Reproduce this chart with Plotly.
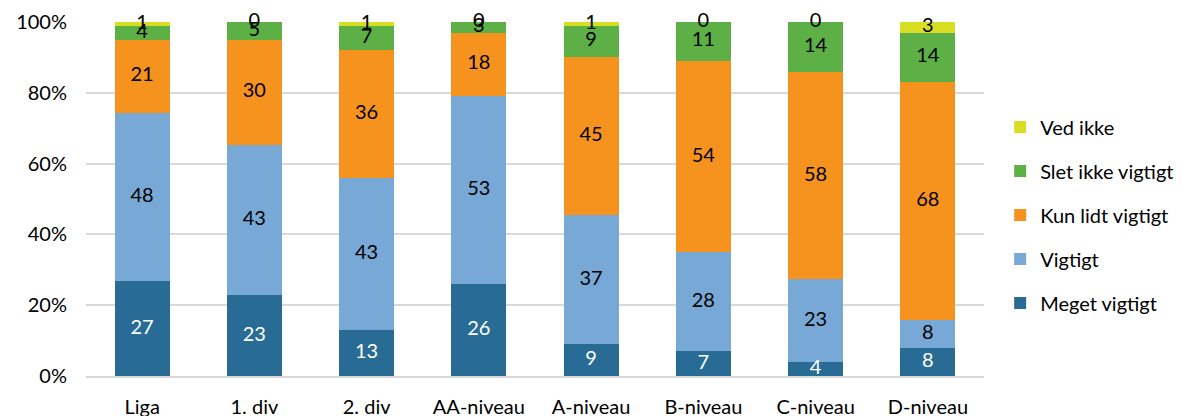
import plotly.graph_objects as go

categories = ["Liga", "1. div", "2. div", "AA-niveau", "A-niveau", "B-niveau", "C-niveau", "D-niveau"]

meget_vigtigt = [27, 23, 13, 26, 9, 7, 4, 8]
vigtigt = [48, 43, 43, 53, 37, 28, 23, 8]
kun_lidt_vigtigt = [21, 30, 36, 18, 45, 54, 58, 68]
slet_ikke_vigtigt = [4, 5, 7, 3, 9, 11, 14, 14]
ved_ikke = [1, 0, 1, 0, 1, 0, 0, 3]

y_ticks = [0, 20, 40, 60, 80, 100]
y_tick_labels = ["0%", "20%", "40%", "60%", "80%", "100%"]

series = [
    ("Meget vigtigt", meget_vigtigt, "#286B94", "white"),
    ("Vigtigt", vigtigt, "#78A9D6", "black"),
    ("Kun lidt vigtigt", kun_lidt_vigtigt, "#F6931F", "black"),
    ("Slet ikke vigtigt", slet_ikke_vigtigt, "#5CB046", "black"),
    ("Ved ikke", ved_ikke, "#D8DE22", "black"),
]

FONT = "Lato, 'Open Sans', sans-serif"
FS = 20

totals = [sum(vals) for vals in zip(*[s[1] for s in series])]

fig = go.Figure()

# stacked bars, each column normalised to 100 %
for i, (name, vals, color, tcolor) in enumerate(series):
    fig.add_trace(go.Bar(
        name=name,
        x=categories,
        y=vals,
        marker=dict(color=color, line=dict(width=0)),
        legendgroup=f"g{i}",
        legendrank=len(series) - i,
        hoverinfo="x+y+name",
    ))

# value labels centred in each (normalised) segment, zero-height segments included
base = [0.0] * len(categories)
for i, (name, vals, color, tcolor) in enumerate(series):
    shares = [v / t * 100 for v, t in zip(vals, totals)]
    mids = [b + s / 2 for b, s in zip(base, shares)]
    fig.add_trace(go.Scatter(
        x=categories,
        y=mids,
        mode="text",
        text=[str(v) for v in vals],
        textposition="middle center",
        textfont=dict(color=tcolor, size=FS, family=FONT),
        showlegend=False,
        hoverinfo="skip",
        cliponaxis=False,
    ))
    base = [b + s for b, s in zip(base, shares)]

fig.update_layout(
    barmode="stack",
    barnorm="percent",
    bargap=0.51,
    width=1190,
    height=416,
    margin=dict(l=86, r=206, t=22, b=40, autoexpand=False),
    paper_bgcolor="white",
    plot_bgcolor="white",
    font=dict(family=FONT, size=FS, color="black"),
    legend=dict(
        traceorder="grouped",
        tracegroupgap=15,
        x=1.018,
        xanchor="left",
        y=0.455,
        yanchor="middle",
        font=dict(size=FS, family=FONT),
        itemwidth=30,
    ),
    showlegend=True,
)

fig.update_yaxes(
    range=[0, 100],
    tickmode="array",
    tickvals=y_ticks,
    ticktext=y_tick_labels,
    showgrid=True,
    gridcolor="#D9D9D9",
    gridwidth=2,
    zeroline=False,
    showline=False,
    ticks="",
    ticklabelstandoff=18,
    tickfont=dict(size=FS, family=FONT),
    automargin=False,
)
fig.update_xaxes(
    showline=True,
    linecolor="#D9D9D9",
    linewidth=2,
    ticks="",
    ticklabelstandoff=12,
    tickfont=dict(size=FS, family=FONT),
    automargin=False,
)

fig.write_html("out.html")
